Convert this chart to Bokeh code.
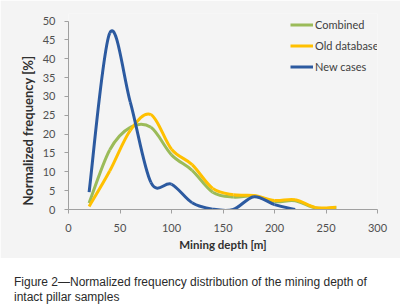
from bokeh.plotting import figure
from bokeh.models import Legend, LegendItem, Title, FixedTicker, Div, Range1d
from bokeh.layouts import column
from bokeh.embed import file_html
from bokeh.resources import INLINE

# ---- data ----
depth = [20, 40, 60, 80, 100, 120, 140, 160, 180, 200, 220, 240, 260]
combined = [1.7, 15.8, 21.8, 21.8, 14.5, 10.4, 4.6, 3.3, 3.6, 2.1, 2.3, 0.4, 0.5]
old_database = [0.8, 10.2, 21.0, 25.2, 16.0, 11.9, 5.6, 3.9, 3.7, 2.4, 2.6, 0.5, 0.6]
new_depth = [20, 40, 60, 80, 100, 120, 140, 160, 180, 200, 220]
new_cases = [4.6, 46.8, 28.5, 7.2, 6.7, 1.8, 0.1, 0.0, 3.4, 1.3, 0.0]

x_ticks = [0, 50, 100, 150, 200, 250, 300]
y_ticks = [0, 5, 10, 15, 20, 25, 30, 35, 40, 45, 50]

series_names = ["Combined", "Old database", "New cases"]
series_colors = ["#9bbb59", "#ffc000", "#2c5aa0"]

BG = "#f4f4f4"
FONT = "Lato"

p = figure(width=400, height=258, output_backend="svg", toolbar_location=None,
           x_range=Range1d(0, 300), y_range=Range1d(0, 52),
           min_border_left=68, min_border_right=23, min_border_top=13,
           min_border_bottom=49)
p.background_fill_color = BG
p.border_fill_color = BG
p.outline_line_color = None
p.grid.visible = False


def smooth(xs, ys):
    """Bezier control points (Catmull-Rom style) through the data points."""
    n = len(xs)
    x0, y0, x1, y1, cx0, cy0, cx1, cy1 = [], [], [], [], [], [], [], []
    for i in range(n - 1):
        xa, ya = xs[i], ys[i]
        xb, yb = xs[i + 1], ys[i + 1]
        xp, yp = (xs[i - 1], ys[i - 1]) if i > 0 else (xa, ya)
        xn, yn = (xs[i + 2], ys[i + 2]) if i + 2 < n else (xb, yb)
        x0.append(xa); y0.append(ya); x1.append(xb); y1.append(yb)
        cx0.append(xa + (xb - xp) / 6.0); cy0.append(ya + (yb - yp) / 6.0)
        cx1.append(xb - (xn - xa) / 6.0); cy1.append(yb - (yn - ya) / 6.0)
    return dict(x0=x0, y0=y0, x1=x1, y1=y1, cx0=cx0, cy0=cy0, cx1=cx1, cy1=cy1)


renderers = []
for xs, ys, col in [(depth, combined, series_colors[0]),
                    (depth, old_database, series_colors[1]),
                    (new_depth, new_cases, series_colors[2])]:
    d = smooth(xs, ys)
    p.bezier(x0=d["x0"], y0=d["y0"], x1=d["x1"], y1=d["y1"],
             cx0=d["cx0"], cy0=d["cy0"], cx1=d["cx1"], cy1=d["cy1"],
             line_color=col, line_width=3)
    # single-point line renderer used only as the legend glyph
    r = p.line(xs[:1], ys[:1], line_color=col, line_width=3)
    renderers.append(r)

# axes
for ax in (p.xaxis[0], p.yaxis[0]):
    ax.axis_line_color = "#a0a0a0"
    ax.major_tick_line_color = "#a0a0a0"
    ax.minor_tick_line_color = None
    ax.major_tick_in = 0
    ax.major_tick_out = 4
    ax.major_label_text_font = FONT
    ax.major_label_text_font_size = "11px"
    ax.major_label_text_color = "#505050"

p.xaxis.ticker = FixedTicker(ticks=x_ticks)
p.yaxis.ticker = FixedTicker(ticks=y_ticks)
p.yaxis.bounds = (0, 50)
p.xaxis.major_label_standoff = 10
p.yaxis.major_label_standoff = 9
p.xaxis.axis_label = "Mining depth [m]"
p.xaxis.axis_label_text_font = FONT
p.xaxis.axis_label_text_font_style = "bold"
p.xaxis.axis_label_text_font_size = "11.5px"
p.xaxis.axis_label_text_color = "#303030"
p.xaxis.axis_label_standoff = 3

ytitle = Title(text="Normalized frequency [%]", align="left", offset=4,
               text_font=FONT, text_font_style="bold", text_font_size="13px",
               text_color="#303030", standoff=8)
p.add_layout(ytitle, "left")

legend = Legend(items=[LegendItem(label=n, renderers=[r])
                       for n, r in zip(series_names, renderers)],
                location=(222, 132), orientation="vertical")
legend.glyph_width = 23
legend.glyph_height = 21
legend.label_height = 21
legend.spacing = 0
legend.padding = 0
legend.margin = 0
legend.label_standoff = 2
legend.border_line_color = None
legend.background_fill_alpha = 0
legend.label_text_font = FONT
legend.label_text_font_size = "11px"
legend.label_text_color = "#404040"
p.add_layout(legend)

caption = Div(text="Figure 2\u2014Normalized frequency distribution of the mining depth of<br>intact pillar samples",
              width=400, height=47, margin=(0, 0, 0, 0),
              styles={"font-family": "Liberation Sans", "font-size": "12px",
                      "line-height": "15px", "color": "#2a2a2a",
                      "padding-top": "17px", "padding-left": "14px",
                      "background-color": "white", "box-sizing": "border-box",
                      "width": "400px", "height": "47px"})

layout = column(p, caption, spacing=0)
open("out.html", "w").write(file_html(layout, INLINE))
